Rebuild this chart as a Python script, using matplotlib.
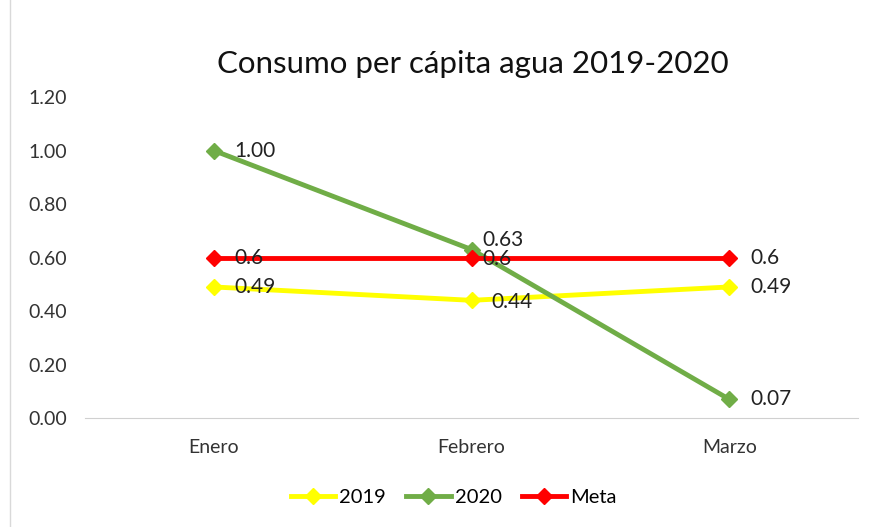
import matplotlib.pyplot as plt
from matplotlib.lines import Line2D

plt.rcParams['font.family'] = ['Lato', 'DejaVu Sans']

meses = ['Enero', 'Febrero', 'Marzo']
v2019 = [0.49, 0.44, 0.49]
v2020 = [1.00, 0.63, 0.07]
meta = [0.6, 0.6, 0.6]
lab2019 = ['0.49', '0.44', '0.49']
lab2020 = ['1.00', '0.63', '0.07']
labmeta = ['0.6', '0.6', '0.6']

fig = plt.figure(figsize=(8.72, 5.27), dpi=100)
ax = fig.add_axes([0.0975, 0.2068, 0.8865, 0.609])

x = range(len(meses))
series = [
    ('2019', v2019, lab2019, '#FFFF00'),
    ('2020', v2020, lab2020, '#70AD47'),
    ('Meta', meta, labmeta, '#FF0000'),
]
for name, vals, labs, col in series:
    ax.plot(x, vals, color=col, lw=3.5, marker='D', ms=8, label=name)

for name, vals, labs, col in series:
    for i, (v, t) in enumerate(zip(vals, labs)):
        dx = 8 if i == 1 else 15
        dy = 0
        if name == '2020' and i == 1:
            dy = 7
        if name == 'Meta' and i == 1:
            dy = -1
        if name == '2019' and i == 1:
            dx = 14
            dy = -1
        ax.annotate(t, (i, v), xytext=(dx, dy), textcoords='offset points',
                    ha='left', va='center', fontsize=15, color='#222222')

ax.set_xlim(-0.5, 2.5)
ax.set_ylim(0, 1.2)
ax.set_yticks([0, 0.2, 0.4, 0.6, 0.8, 1.0, 1.2])
ax.set_yticklabels(['%.2f' % t for t in ax.get_yticks()])
ax.set_xticks(list(x))
ax.set_xticklabels(meses)
ax.tick_params(axis='both', length=0, colors='#333333')
ax.tick_params(axis='x', pad=15, labelsize=14)
ax.tick_params(axis='y', pad=13, labelsize=14)
for s in ['top', 'right', 'left']:
    ax.spines[s].set_visible(False)
ax.spines['bottom'].set_color('#D0D0D0')

fig.suptitle('Consumo per cápita agua 2019-2020', x=0.542, y=0.905, fontsize=22.5, color='#111111')

ax.legend(loc='upper center', bbox_to_anchor=(0.477, -0.165), ncol=3, frameon=False,
          fontsize=14.5, handlelength=2.2, columnspacing=1.0, handletextpad=0.2)

fig.add_artist(Line2D([10 / 872, 10 / 872], [0, 1], transform=fig.transFigure,
                      color='#D9D9D9', lw=1))

fig.savefig('out.png', dpi=100, facecolor='white')
